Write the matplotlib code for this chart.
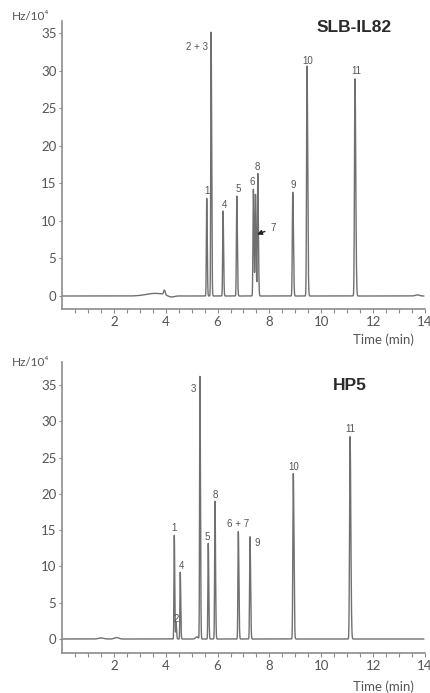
import numpy as np
import matplotlib
matplotlib.use("Agg")
import matplotlib.pyplot as plt

# ---------------- data ----------------
# SLB-IL82 column: peak retention times (min) and heights (Hz/10^4)
il82_times = [5.58, 5.75, 6.21, 6.74, 7.38, 7.46, 7.55, 8.90, 9.45, 11.30]
il82_heights = [13.0, 35.1, 11.3, 13.3, 14.2, 13.5, 16.3, 13.8, 30.6, 28.9]
il82_labels = ["1", "2 + 3", "4", "5", "6", "7", "8", "9", "10", "11"]
# small baseline features (time, height, width)
il82_base_t = [3.6, 3.95, 4.2, 13.7]
il82_base_h = [0.35, 0.6, -0.2, 0.15]
il82_base_w = [0.35, 0.03, 0.12, 0.08]

# HP5 column
hp5_times = [4.33, 4.40, 4.56, 5.32, 5.64, 5.90, 6.80, 7.25, 8.92, 11.11]
hp5_heights = [14.3, 2.3, 9.2, 36.2, 13.2, 19.0, 14.8, 14.1, 22.8, 27.9]
hp5_labels = ["1", "2", "4", "3", "5", "8", "6 + 7", "9", "10", "11"]
hp5_base_t = [1.5, 2.1, 5.2]
hp5_base_h = [0.15, 0.2, 0.3]
hp5_base_w = [0.1, 0.08, 0.05]

x_ticks = [2, 4, 6, 8, 10, 12, 14]
y_ticks = [0, 5, 10, 15, 20, 25, 30, 35]

# label offsets in pixels relative to peak apex (style)
il82_offsets = [(0, 7), (-14, -15), (1, 6), (1, 7), (-1, 7), None, (0, 7), (0, 7), (1, 5), (1, 8)]
hp5_offsets = [(0, 7), (0, 3), (1, 6), (-7, -12), (-1, 6), (0, 6), (0, 8), (7, -6), (0, 7), (0, 8)]

LINE = "#707070"
AX = "#8c8c8c"
TXT = "#555555"

fig = plt.figure(figsize=(4.31, 6.93), dpi=100)


def trace(t, times, heights, bt, bh, bw):
    y = np.zeros_like(t)
    for tm, h in zip(times, heights):
        s = 0.008 + 0.001 * tm
        left = np.exp(-0.5 * ((t - tm) / s) ** 2)
        right = np.exp(-0.5 * ((t - tm) / (s * 1.5)) ** 2)
        y += h * np.where(t < tm, left, right)
    for tm, h, w in zip(bt, bh, bw):
        y += h * np.exp(-0.5 * ((t - tm) / w) ** 2)
    return y


def panel(rect, ylim, times, heights, labels, offsets, bt, bh, bw, title, title_xy, ylab_y, time_y):
    ax = fig.add_axes(rect)
    t = np.linspace(0.0, 13.95, 40000)
    y = trace(t, times, heights, bt, bh, bw)
    ax.plot(t, y, color=LINE, lw=1.0)
    ax.set_xlim(0, 14)
    ax.set_ylim(*ylim)
    for s in ["top", "right"]:
        ax.spines[s].set_visible(False)
    for s in ["left", "bottom"]:
        ax.spines[s].set_color(AX)
        ax.spines[s].set_linewidth(1.2)
    ax.set_xticks(x_ticks)
    ax.set_xticks(np.arange(0.5, 14.0, 0.5), minor=True)
    ax.set_yticks(y_ticks)
    ax.tick_params(axis="x", which="both", direction="out", length=3, width=0.8,
                   color=AX, labelcolor=TXT, labelsize=9.5, pad=2)
    ax.tick_params(axis="y", direction="out", length=2.5, width=0.8,
                   color=AX, labelcolor=TXT, labelsize=9.5, pad=1.5)
    for lab in ax.get_xticklabels() + ax.get_yticklabels():
        lab.set_fontfamily("Lato")
    for tm, h, lab, off in zip(times, heights, labels, offsets):
        if off is None:
            continue
        ax.annotate(lab, xy=(tm, h), xytext=off, textcoords="offset pixels",
                    ha="center", va="center", fontsize=7, color=TXT,
                    fontfamily="Liberation Sans")
    fig.text(title_xy[0], title_xy[1], title, ha="center", va="center",
             fontsize=12.5, fontweight="bold", color="#2a2a2a", fontfamily="Liberation Sans")
    fig.text(12 / 431, ylab_y, "Hz/10\u2074", ha="left", va="center", fontsize=8.5,
             color=TXT, fontfamily=["Lato", "DejaVu Sans"])
    fig.text(383 / 431, time_y, "Time (min)", ha="center", va="center", fontsize=9.5,
             color=TXT, fontfamily="Lato")
    return ax


left = 62 / 431
width = 363 / 431

ax1 = panel([left, 1 - 309 / 693, width, (309 - 21) / 693], (-1.73, 36.6),
            il82_times, il82_heights, il82_labels, il82_offsets,
            il82_base_t, il82_base_h, il82_base_w,
            "SLB-IL82", (354 / 431, 1 - 28 / 693), 1 - 17 / 693, 1 - 340 / 693)
# arrow for peak 7
i7 = il82_labels.index("7")
ax1.annotate("7", xy=(il82_times[i7] + 0.06, 8.2), xytext=(16, 6), textcoords="offset pixels",
             ha="center", va="center", fontsize=7, color=TXT, fontfamily="Liberation Sans",
             arrowprops=dict(arrowstyle="-|>", color="#222222", lw=1.0,
                             shrinkA=2, shrinkB=0, mutation_scale=7))

ax2 = panel([left, 1 - 653 / 693, width, (653 - 362) / 693], (-1.93, 38.2),
            hp5_times, hp5_heights, hp5_labels, hp5_offsets,
            hp5_base_t, hp5_base_h, hp5_base_w,
            "HP5", (350 / 431, 1 - 385 / 693), 1 - 362 / 693, 1 - 687 / 693)

fig.savefig("out.png", dpi=100)
